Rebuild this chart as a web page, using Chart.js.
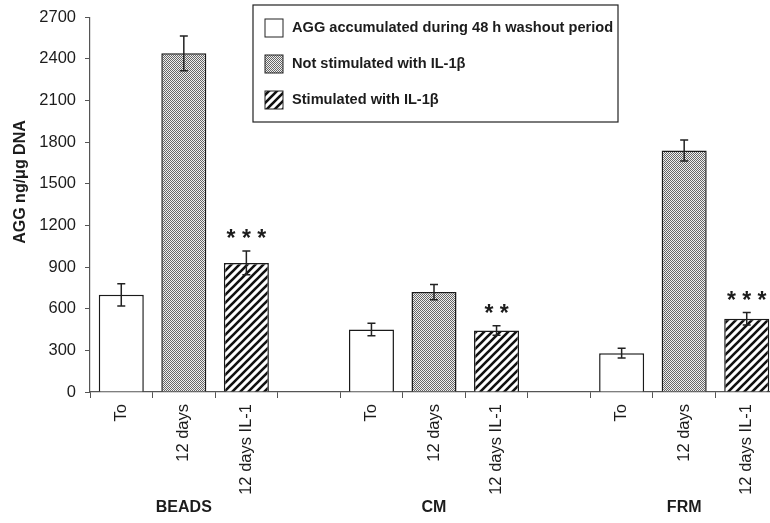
<!DOCTYPE html>
<html>
<head>
<meta charset="utf-8">
<script src="https://cdn.jsdelivr.net/npm/chart.js@4"></script>
<style>
  html, body { margin: 0; padding: 0; background: #fff; overflow: hidden; }
</style>
</head>
<body>
<canvas id="aggChart" width="790" height="523"></canvas>
<script>
const groups = ['BEADS', 'CM', 'FRM'];
const conditions = ['To', '12 days', '12 days IL-1'];
const seriesLabels = [
    'AGG accumulated during 48 h washout period',
    'Not stimulated with IL-1β',
    'Stimulated with IL-1β'
];
const washout = [700, 450, 280];
const washoutErr = [80, 45, 35];
const notStim = [2440, 720, 1740];
const notStimErr = [125, 55, 75];
const stim = [930, 443, 528];
const stimErr = [85, 35, 45];
const stimMarks = ['***', '**', '***'];
const yTitle = 'AGG ng/μg DNA';
const yMax = 2700;
const yStep = 300;

const FONT = "'Liberation Sans', Arial, sans-serif";
const INK = '#1c1c1c';

// one empty slot between the groups
const labels = groups.flatMap((g, i) => i < groups.length - 1 ? [...conditions, ''] : conditions);
const slot = (g, c) => g * (conditions.length + 1) + c;

function place(values, c) {
    const arr = labels.map(() => null);
    values.forEach((v, g) => arr[slot(g, c)] = v);
    return arr;
}

function stipplePattern() {
    const c = document.createElement('canvas');
    c.width = 4; c.height = 4;
    const x = c.getContext('2d');
    x.fillStyle = '#efefef';
    x.fillRect(0, 0, 4, 4);
    x.fillStyle = '#666';
    for (let i = 0; i < 4; i++) {
        for (let j = 0; j < 4; j++) {
            if ((i + j) % 2 === 0) x.fillRect(i, j, 1, 1);
        }
    }
    return x.createPattern(c, 'repeat');
}

function hatchPattern() {
    const s = 8;
    const c = document.createElement('canvas');
    c.width = s; c.height = s;
    const x = c.getContext('2d');
    x.fillStyle = '#fff';
    x.fillRect(0, 0, s, s);
    x.strokeStyle = '#111';
    x.lineWidth = 2.6;
    x.beginPath();
    x.moveTo(-1, s + 1); x.lineTo(s + 1, -1);
    x.moveTo(-1, 1); x.lineTo(1, -1);
    x.moveTo(s - 1, s + 1); x.lineTo(s + 1, s - 1);
    x.stroke();
    return x.createPattern(c, 'repeat');
}

const fills = ['#ffffff', stipplePattern(), hatchPattern()];

// error bars and significance marks
const errorBars = {
    id: 'errorBars',
    afterDatasetsDraw(chart) {
        const ctx = chart.ctx;
        const y = chart.scales.y;
        ctx.save();
        chart.data.datasets.forEach((ds, i) => {
            const meta = chart.getDatasetMeta(i);
            meta.data.forEach((bar, k) => {
                const v = ds.data[k];
                if (v === null) return;
                const e = ds.errors[k];
                const top = y.getPixelForValue(v + e);
                const bot = y.getPixelForValue(v - e);
                ctx.strokeStyle = '#222';
                ctx.lineWidth = 1.5;
                ctx.beginPath();
                ctx.moveTo(bar.x, top); ctx.lineTo(bar.x, bot);
                ctx.moveTo(bar.x - 4, top); ctx.lineTo(bar.x + 4, top);
                ctx.moveTo(bar.x - 4, bot); ctx.lineTo(bar.x + 4, bot);
                ctx.stroke();
                if (ds.marks && ds.marks[k]) {
                    ctx.fillStyle = INK;
                    ctx.font = 'bold 23px ' + FONT;
                    ctx.textAlign = 'center';
                    ctx.textBaseline = 'middle';
                    ctx.fillText(ds.marks[k].split('').join(' '), bar.x, top - 11);
                }
            });
        });
        ctx.restore();
    }
};

// y title and group names under the rotated tick labels
const axisTexts = {
    id: 'axisTexts',
    afterDraw(chart) {
        const ctx = chart.ctx;
        const x = chart.scales.x;
        ctx.save();
        ctx.fillStyle = INK;
        ctx.font = 'bold 16px ' + FONT;
        ctx.textAlign = 'center';
        ctx.textBaseline = 'middle';
        groups.forEach((g, i) => {
            ctx.fillText(g, x.getPixelForValue(slot(i, 1)), 508);
        });
        ctx.translate(21, 182);
        ctx.rotate(-Math.PI / 2);
        ctx.fillText(yTitle, 0, 0);
        ctx.restore();
    }
};

// boxed legend, top right
const boxLegend = {
    id: 'boxLegend',
    afterDraw(chart) {
        const ctx = chart.ctx;
        const left = chart.chartArea.left + 163;
        const top = 5;
        const width = 365;
        const height = 117;
        ctx.save();
        ctx.fillStyle = '#fff';
        ctx.fillRect(left, top, width, height);
        ctx.strokeStyle = '#222';
        ctx.lineWidth = 1.2;
        ctx.strokeRect(left, top, width, height);
        ctx.font = 'bold 14.6px ' + FONT;
        ctx.textBaseline = 'middle';
        ctx.textAlign = 'left';
        chart.data.datasets.forEach((ds, i) => {
            const cy = top + 23 + i * 36;
            ctx.fillStyle = ds.backgroundColor;
            ctx.fillRect(left + 12, cy - 9, 18, 18);
            ctx.strokeStyle = '#222';
            ctx.lineWidth = 1;
            ctx.strokeRect(left + 12, cy - 9, 18, 18);
            ctx.fillStyle = INK;
            ctx.fillText(ds.label, left + 39, cy);
        });
        ctx.restore();
    }
};

const seriesValues = [washout, notStim, stim];
const seriesErrors = [washoutErr, notStimErr, stimErr];

new Chart(
    document.getElementById('aggChart'),
    {
        type: 'bar',
        data: {
            labels: labels,
            datasets: seriesValues.map((vals, c) => ({
                label: seriesLabels[c],
                data: place(vals, c),
                errors: place(seriesErrors[c], c),
                marks: c === 2 ? place(stimMarks, c) : null,
                backgroundColor: fills[c],
                borderColor: '#1a1a1a',
                borderWidth: 1.5,
                grouped: false,
                categoryPercentage: 1,
                barPercentage: 0.72
            }))
        },
        options: {
            responsive: false,
            animation: false,
            layout: { padding: { top: 12, right: 12, bottom: 0, left: 0 } },
            plugins: {
                legend: { display: false },
                tooltip: { enabled: false }
            },
            scales: {
                x: {
                    grid: {
                        drawOnChartArea: false,
                        drawTicks: true,
                        tickLength: 6,
                        color: '#555'
                    },
                    border: { color: '#555', width: 1.2 },
                    ticks: {
                        minRotation: 90,
                        maxRotation: 90,
                        autoSkip: false,
                        padding: 6,
                        color: INK,
                        font: { family: FONT, size: 16.5 }
                    },
                    afterFit(scale) { scale.height = 131; }
                },
                y: {
                    min: 0,
                    max: yMax,
                    grid: {
                        drawOnChartArea: false,
                        drawTicks: true,
                        tickLength: 5,
                        color: '#555'
                    },
                    border: { color: '#555', width: 1.2 },
                    ticks: {
                        stepSize: yStep,
                        padding: 9,
                        color: INK,
                        font: { family: FONT, size: 16.5, lineHeight: 1 },
                        callback: (v) => String(v)
                    },
                    afterFit(scale) { scale.width = 90; }
                }
            }
        },
        plugins: [errorBars, axisTexts, boxLegend]
    }
);
</script>
</body>
</html>
